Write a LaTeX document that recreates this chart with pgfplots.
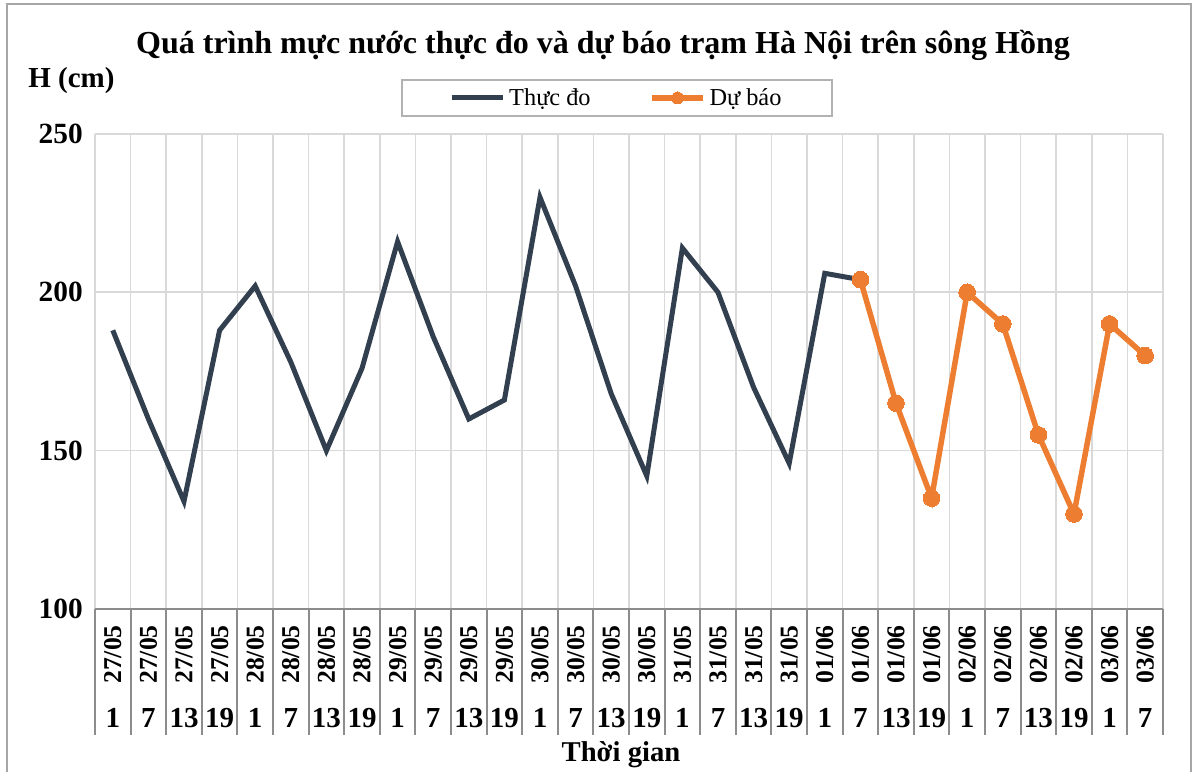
\documentclass[border=0pt]{standalone}
\usepackage{fontspec}
\setmainfont{Liberation Serif}
\usepackage{pgfplots}
\pgfplotsset{compat=1.18}
\definecolor{navy}{HTML}{323F4F}
\definecolor{orng}{HTML}{ED7D31}
\definecolor{gridc}{HTML}{D9D9D9}
\definecolor{sepc}{HTML}{8C8C8C}
\newcommand{\fs}[1]{\fontsize{#1}{#1}\selectfont}
\begin{document}
\begin{tikzpicture}[x=0.6pt,y=0.6pt]
\path[use as bounding box] (0,0) rectangle (1200,772);
\clip (0,0) rectangle (1200,772);
\draw[gray!70, line width=1.2pt] (7,768) rectangle (1191,-10);
\begin{axis}[
  at={(57pt,97.8pt)}, anchor=south west, scale only axis,
  width=640.8pt, height=285pt,
  xmin=-0.5, xmax=29.5, ymin=100, ymax=250,
  ytick={100,150,200,250},
  xtick={0,...,29},
  xticklabels={27/05,27/05,27/05,27/05,28/05,28/05,28/05,28/05,29/05,29/05,29/05,29/05,30/05,30/05,30/05,30/05,31/05,31/05,31/05,31/05,01/06,01/06,01/06,01/06,02/06,02/06,02/06,02/06,03/06,03/06},
  minor xtick={-0.5,0.5,...,29.5},
  xminorgrids, ymajorgrids,
  grid style={gridc, line width=1pt},
  minor grid style={gridc, line width=1pt},
  major tick length=0pt, minor tick length=0pt,
  axis line style={draw=none},
  /pgf/number format/assume math mode=true,
  yticklabel style={font=\bfseries\fs{17.6}, anchor=east, inner sep=0pt, xshift=-7.2pt},
  xticklabel style={font=\bfseries\fs{15.4}, yshift=-9.6pt, rotate=90, anchor=east, inner sep=0pt},
  legend style={at={(0.4888,1.0758)}, anchor=center, draw=gray!60, line width=1.2pt,
    font=\fs{14.6}, inner xsep=28.5pt, inner ysep=3pt},
  legend columns=2,
  /tikz/every even column/.append style={column sep=33pt},
  legend image code/.code={\draw[mark repeat=2,mark phase=2,#1, mark size=3.6pt] plot coordinates {(0pt,0pt) (15.5pt,0pt) (31pt,0pt)};},
  clip=false,
]
\addplot[navy, line width=3pt, mark=none] coordinates {
(0,188) (1,160) (2,134) (3,188) (4,202) (5,178) (6,150) (7,176)
(8,216) (9,186) (10,160) (11,166) (12,230) (13,202) (14,168) (15,142)
(16,214) (17,200) (18,170) (19,146) (20,206) (21,204)};
\addlegendentry{Thực đo}
\addplot[orng, line width=3.3pt, mark=*, mark size=5pt, mark options={fill=orng, draw=orng, line width=0pt}] coordinates {
(21,204) (22,165) (23,135) (24,200) (25,190) (26,155) (27,130) (28,190) (29,180)};
\addlegendentry{Dự báo}
\end{axis}
\draw[sepc, line width=1.5pt] (95,163) -- (1163,163);
\foreach \i in {0,...,30} \draw[sepc, line width=1.2pt] (95+35.6*\i,163) -- (95+35.6*\i,37);
\foreach \h [count=\i from 0] in {1,7,13,19,1,7,13,19,1,7,13,19,1,7,13,19,1,7,13,19,1,7,13,19,1,7,13,19,1,7}
  \node[font=\bfseries\fs{17.4}, inner sep=0pt] at (112.8+35.6*\i, 54) {\h};
\node[font=\bfseries\fs{19.2}] at (603,727) {Quá trình mực nước thực đo và dự báo trạm Hà Nội trên sông Hồng};
\node[font=\bfseries\fs{17.4}, anchor=west, inner sep=0pt] at (28,691) {H (cm)};
\node[font=\bfseries\fs{17.2}] at (621,17) {Thời gian};
\end{tikzpicture}
\end{document}
